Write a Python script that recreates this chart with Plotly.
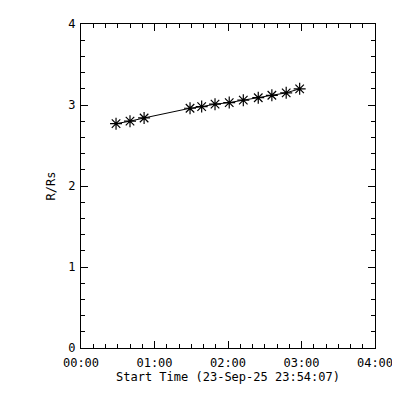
import plotly.graph_objects as go

# Data (minutes after 00:00, radius in R/Rs)
time_min = [28.6, 40.0, 51.5, 89.0, 98.5, 109.4, 121.0, 132.5, 144.7, 155.8, 167.5, 178.5]
radius = [2.77, 2.80, 2.84, 2.96, 2.98, 3.01, 3.03, 3.06, 3.09, 3.12, 3.15, 3.20]
x_tickvals = [0, 60, 120, 180, 240]
x_ticktext = ["00:00", "01:00", "02:00", "03:00", "04:00"]
y_tickvals = [0, 1, 2, 3, 4]
x_title = "Start Time (23-Sep-25 23:54:07)"
y_title = "R/Rs"

font = dict(family="DejaVu Sans Mono", size=12, color="black")

fig = go.Figure()
fig.add_trace(go.Scatter(
    x=time_min, y=radius, mode="lines+markers",
    line=dict(color="black", width=1),
    marker=dict(symbol="asterisk-open", size=10, color="black",
                line=dict(color="black", width=1.2)),
    showlegend=False,
))

axis_common = dict(
    showline=True, linecolor="black", linewidth=1, mirror="allticks",
    ticks="inside", ticklen=7, tickcolor="black", tickwidth=1,
    showgrid=False, zeroline=False, tickfont=font, automargin=False,
)

fig.update_xaxes(
    range=[0, 240], tickvals=x_tickvals, ticktext=x_ticktext,
    minor=dict(ticks="inside", dtick=10, ticklen=4, tickcolor="black", showgrid=False),
    ticklabelstandoff=4,
    title=dict(text=x_title, font=font, standoff=0),
    **axis_common,
)
fig.update_yaxes(
    range=[0, 4], tickvals=y_tickvals,
    minor=dict(ticks="inside", dtick=0.2, ticklen=4, tickcolor="black", showgrid=False),
    ticklabelstandoff=2,
    title=dict(text=y_title, font=font, standoff=10),
    **axis_common,
)

# The page body adds an 8px offset, so the figure is sized/margined to compensate
fig.update_layout(
    width=392, height=392,
    margin=dict(l=73, r=25, t=16, b=52),
    paper_bgcolor="white", plot_bgcolor="white",
    font=font,
)

fig.write_html("out.html")
